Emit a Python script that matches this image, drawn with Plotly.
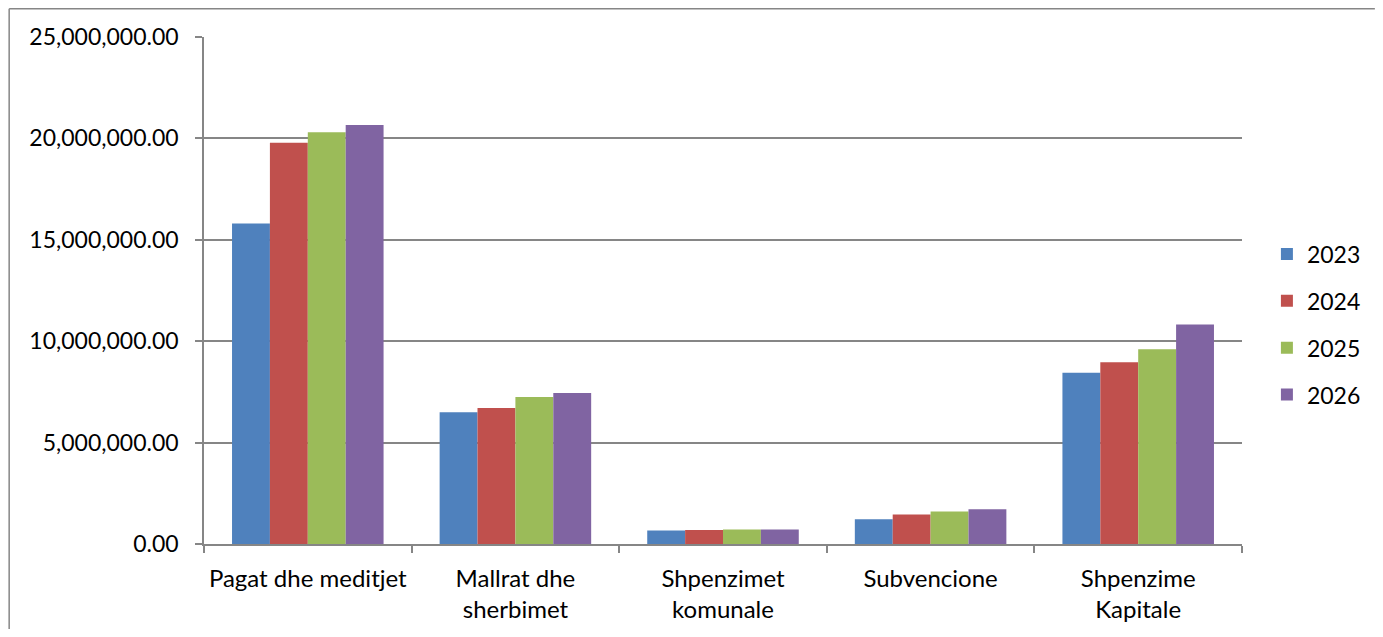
import plotly.graph_objects as go

categories = ["Pagat dhe meditjet", "Mallrat dhe<br>sherbimet", "Shpenzimet<br>komunale",
              "Subvencione", "Shpenzime<br>Kapitale"]
years = ["2023", "2024", "2025", "2026"]
v2023 = [15800000, 6500000, 660000, 1220000, 8450000]
v2024 = [19790000, 6700000, 690000, 1450000, 8960000]
v2025 = [20300000, 7250000, 720000, 1600000, 9600000]
v2026 = [20660000, 7450000, 710000, 1710000, 10820000]
colors = ["#4F81BD", "#C0504D", "#9BBB59", "#8064A2"]
yticks = [0, 5000000, 10000000, 15000000, 20000000, 25000000]

series = [v2023, v2024, v2025, v2026]
FONT = "Lato"

fig = go.Figure()
for name, vals, col in zip(years, series, colors):
    fig.add_trace(go.Bar(x=categories, y=vals, name=name, legendgroup=name,
                         marker=dict(color=col, line=dict(width=0))))

frame = dict(color="#868686", width=1.5)
fig.update_layout(
    width=1367, height=621,
    margin=dict(l=196, r=133, t=29, b=85, autoexpand=False),
    paper_bgcolor="white", plot_bgcolor="white",
    font=dict(family=FONT, size=20, color="black"),
    barmode="group", bargap=0.27, bargroupgap=0,
    showlegend=True,
    legend=dict(x=1.024, y=0.433, xanchor="left", yanchor="middle",
                font=dict(family=FONT, size=23, color="black"),
                traceorder="grouped", tracegroupgap=14, bgcolor="rgba(0,0,0,0)"),
    shapes=[
        dict(type="line", xref="paper", yref="paper", x0=-0.1877, x1=1.128,
             y0=1.0557, y1=1.0557, line=frame, layer="below"),
        dict(type="line", xref="paper", yref="paper", x0=-0.1877, x1=-0.1877,
             y0=-0.1677, y1=1.0557, line=frame, layer="below"),
    ],
)
fig.update_xaxes(type="category", tickson="boundaries", ticks="outside", ticklen=7,
                 tickcolor="#868686", tickwidth=1.5, tickangle=0, automargin=False,
                 showline=True, linecolor="#868686", linewidth=1.5,
                 showgrid=False, ticklabelstandoff=12,
                 tickfont=dict(family=FONT, size=24, color="black"))
fig.update_yaxes(range=[0, 25000000], tickvals=yticks, tickformat=",.2f",
                 ticks="outside", ticklen=7, tickcolor="#868686", tickwidth=1.5,
                 showline=True, linecolor="#868686", linewidth=1.5, automargin=False,
                 showgrid=True, gridcolor="#868686", gridwidth=1.5, zeroline=False,
                 ticklabelstandoff=12,
                 tickfont=dict(family=FONT, size=23, color="black"))

fig.write_html("out.html")
